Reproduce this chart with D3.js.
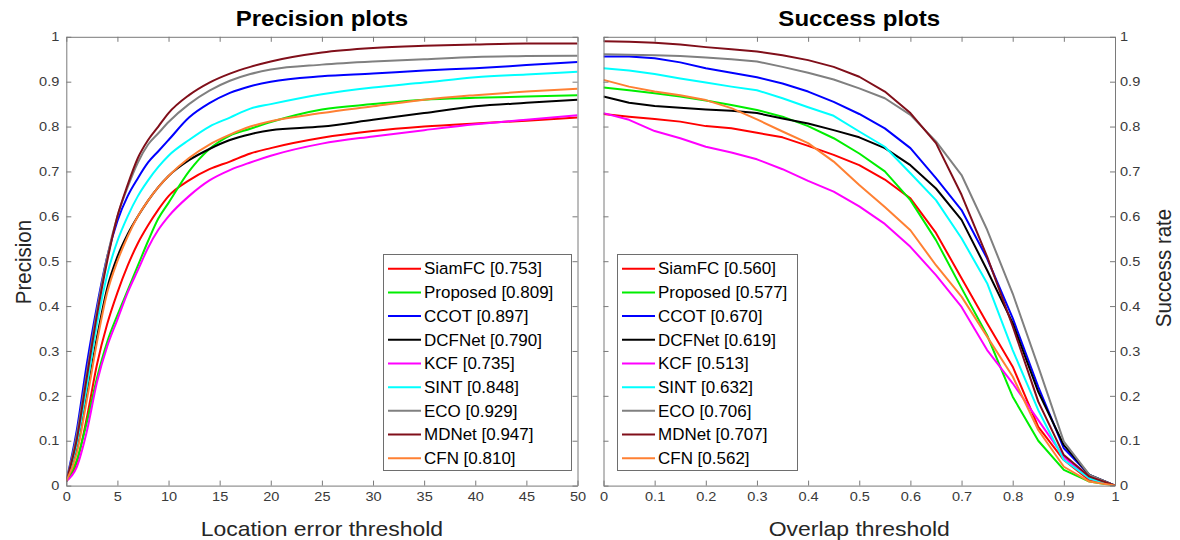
<!DOCTYPE html>
<html><head><meta charset="utf-8">
<script src="https://cdn.jsdelivr.net/npm/d3@7"></script>
<style>
html,body{margin:0;padding:0;background:#fff;}
svg{display:block;font-family:"Liberation Sans",Arial,sans-serif;}
</style></head><body>
<svg id="chart" width="1180" height="540"></svg>
<script>
// ---------- data ----------
const trackers = ["SiamFC","Proposed","CCOT","DCFNet","KCF","SINT","ECO","MDNet","CFN"];
const colors   = ["#ff0000","#00ee00","#0000ff","#000000","#ff00ff","#00ffff","#808080","#800f1a","#ff8033"];
const precisionScores = ["0.753","0.809","0.897","0.790","0.735","0.848","0.929","0.947","0.810"];
const successScores   = ["0.560","0.577","0.670","0.619","0.513","0.632","0.706","0.707","0.562"];

const precX = [0,1,2,3,4,5,6,7,8,9,10,12,14,16,18,20,25,30,35,40,45,50];
const precSiamFC   = [0.01,0.05,0.15,0.27,0.36,0.43,0.49,0.54,0.58,0.615,0.645,0.68,0.705,0.722,0.74,0.752,0.775,0.79,0.80,0.807,0.813,0.82];
const precProposed = [0.01,0.055,0.14,0.24,0.32,0.38,0.435,0.49,0.545,0.595,0.63,0.70,0.75,0.78,0.795,0.81,0.838,0.85,0.86,0.864,0.867,0.87];
const precCCOT     = [0.01,0.12,0.27,0.40,0.51,0.59,0.645,0.685,0.72,0.745,0.77,0.82,0.852,0.875,0.89,0.90,0.912,0.918,0.925,0.93,0.937,0.944];
const precDCFNet   = [0.01,0.08,0.20,0.33,0.44,0.51,0.56,0.60,0.635,0.665,0.69,0.725,0.75,0.77,0.783,0.792,0.80,0.815,0.83,0.845,0.853,0.86];
const precKCF      = [0.01,0.04,0.12,0.23,0.31,0.37,0.43,0.48,0.53,0.57,0.60,0.645,0.68,0.703,0.72,0.735,0.762,0.778,0.792,0.805,0.815,0.825];
const precSINT     = [0.01,0.09,0.22,0.36,0.47,0.545,0.60,0.645,0.68,0.71,0.735,0.77,0.80,0.82,0.84,0.85,0.872,0.887,0.898,0.91,0.916,0.922];
const precECO      = [0.01,0.11,0.25,0.39,0.51,0.60,0.665,0.72,0.76,0.785,0.81,0.85,0.88,0.902,0.917,0.927,0.938,0.945,0.95,0.955,0.957,0.958];
const precMDNet    = [0.01,0.10,0.24,0.38,0.50,0.60,0.67,0.73,0.77,0.80,0.83,0.87,0.898,0.918,0.933,0.945,0.965,0.975,0.98,0.983,0.985,0.985];
const precCFN      = [0.01,0.07,0.19,0.32,0.43,0.50,0.555,0.60,0.635,0.665,0.69,0.73,0.76,0.782,0.80,0.812,0.83,0.845,0.86,0.87,0.878,0.884];

const succX = [0,0.05,0.1,0.15,0.2,0.25,0.3,0.35,0.4,0.45,0.5,0.55,0.6,0.65,0.7,0.75,0.8,0.85,0.9,0.95,1];
const succSiamFC   = [0.828,0.822,0.817,0.811,0.801,0.796,0.786,0.776,0.757,0.737,0.714,0.682,0.64,0.563,0.462,0.362,0.265,0.131,0.057,0.012,0];
const succProposed = [0.887,0.881,0.874,0.867,0.858,0.848,0.837,0.822,0.801,0.774,0.74,0.70,0.636,0.547,0.44,0.335,0.198,0.10,0.035,0.009,0];
const succCCOT     = [0.956,0.956,0.952,0.943,0.93,0.92,0.91,0.896,0.878,0.855,0.828,0.796,0.752,0.685,0.614,0.506,0.373,0.22,0.083,0.024,0];
const succDCFNet   = [0.867,0.853,0.846,0.842,0.838,0.835,0.83,0.818,0.807,0.792,0.776,0.752,0.714,0.662,0.592,0.48,0.362,0.209,0.09,0.024,0];
const succKCF      = [0.83,0.815,0.79,0.774,0.755,0.742,0.727,0.705,0.679,0.655,0.622,0.583,0.532,0.469,0.398,0.302,0.228,0.146,0.064,0.016,0];
const succSINT     = [0.93,0.925,0.917,0.907,0.898,0.889,0.881,0.863,0.843,0.824,0.789,0.755,0.696,0.636,0.551,0.451,0.302,0.168,0.057,0.016,0];
const succECO      = [0.961,0.96,0.959,0.957,0.954,0.95,0.945,0.933,0.92,0.905,0.885,0.863,0.826,0.767,0.692,0.57,0.428,0.265,0.098,0.024,0];
const succMDNet    = [0.99,0.989,0.987,0.983,0.977,0.972,0.967,0.959,0.948,0.933,0.911,0.878,0.83,0.763,0.648,0.51,0.355,0.187,0.068,0.02,0];
const succCFN      = [0.904,0.889,0.878,0.87,0.859,0.841,0.816,0.789,0.763,0.722,0.67,0.621,0.569,0.491,0.421,0.332,0.243,0.124,0.042,0.009,0];

const precTicks = [0,5,10,15,20,25,30,35,40,45,50];
const succTicks = [0,0.1,0.2,0.3,0.4,0.5,0.6,0.7,0.8,0.9,1];
const yTicks    = [0,0.1,0.2,0.3,0.4,0.5,0.6,0.7,0.8,0.9,1];

const precSeries = [precSiamFC,precProposed,precCCOT,precDCFNet,precKCF,precSINT,precECO,precMDNet,precCFN];
const succSeries = [succSiamFC,succProposed,succCCOT,succDCFNet,succKCF,succSINT,succECO,succMDNet,succCFN];

// ---------- layout ----------
const K = 1.12; // horizontal text stretch
const AX = "#7a7a7a", TX = "#3a3a3a";
const svg = d3.select("#chart");
const yTop = 36.8, yBot = 485.6;

const panels = [
  {x0:66.3, x1:577.5, domain:[0,50], xs:precX, series:precSeries, ticks:precTicks, fmt:d3.format("d"),
   curve:d3.curveMonotoneX,
   title:"Precision plots", xlabel:"Location error threshold", ylabel:"Precision", scores:precisionScores,
   labelSide:"left", legend:{x:383.5,y:254.5,w:188,h:216}},
  {x0:603.5, x1:1115, domain:[0,1], xs:succX, series:succSeries, ticks:succTicks, fmt:d => d===0||d===1?String(d):d3.format(".1f")(d),
   curve:d3.curveLinear,
   title:"Success plots", xlabel:"Overlap threshold", ylabel:"Success rate", scores:successScores,
   labelSide:"right", legend:{x:617.5,y:254.5,w:180,h:216}}
];

const y = d3.scaleLinear().domain([0,1]).range([yBot,yTop]);

function stretchText(g, x, yy, txt, opts){
  const k = opts.k === undefined ? K : opts.k;
  const t = g.append("text")
    .attr("transform", `translate(${x},${yy}) scale(${k},1)` + (opts.rotate?` rotate(${opts.rotate})`:""))
    .attr("text-anchor", opts.anchor||"middle")
    .attr("font-size", opts.size)
    .attr("font-weight", opts.weight||"normal")
    .attr("fill", opts.fill||TX)
    .text(txt);
  if (opts.dy) t.attr("dy", opts.dy);
  return t;
}

panels.forEach((p,pi) => {
  const x = d3.scaleLinear().domain(p.domain).range([p.x0,p.x1]);
  const g = svg.append("g");

  const cid = "clip"+pi;
  svg.append("clipPath").attr("id",cid).append("rect")
    .attr("x",p.x0).attr("y",yTop).attr("width",p.x1-p.x0).attr("height",yBot-yTop);

  const line = d3.line().x((d,i)=>x(p.xs[i])).y(d=>y(d)).curve(p.curve);
  g.append("g").attr("clip-path",`url(#${cid})`)
    .selectAll("path").data(p.series).join("path")
    .attr("d", d=>line(d))
    .attr("fill","none")
    .attr("stroke",(d,i)=>colors[i])
    .attr("stroke-width",2)
    .attr("stroke-linejoin","round");

  const bottom = g.append("g").attr("transform",`translate(0,${yBot})`)
    .call(d3.axisBottom(x).tickValues(p.ticks).tickFormat(p.fmt).tickSizeInner(-5).tickSizeOuter(0).tickPadding(6));
  const top = g.append("g").attr("transform",`translate(0,${yTop})`)
    .call(d3.axisTop(x).tickValues(p.ticks).tickFormat("").tickSizeInner(-5).tickSizeOuter(0));
  const left = g.append("g").attr("transform",`translate(${p.x0},0)`)
    .call(d3.axisLeft(y).tickValues(yTicks).tickFormat(p.labelSide==="left"?d3.format("~g"):"").tickSizeInner(-5).tickSizeOuter(0).tickPadding(7));
  const right = g.append("g").attr("transform",`translate(${p.x1},0)`)
    .call(d3.axisRight(y).tickValues(yTicks).tickFormat(p.labelSide==="right"?d3.format("~g"):"").tickSizeInner(-5).tickSizeOuter(0).tickPadding(5));

  [bottom,top,left,right].forEach(a=>{
    a.select(".domain").attr("stroke",AX).attr("stroke-width",1);
    a.selectAll(".tick line").attr("stroke",AX).attr("stroke-width",1);
    a.selectAll(".tick text").attr("fill",TX).attr("font-size",13)
      .attr("font-family","'Liberation Sans',Arial,sans-serif");
  });
  bottom.selectAll(".tick text").attr("transform",`scale(${K},1)`);
  left.selectAll(".tick text").attr("x",-7/K).attr("transform",`scale(${K},1)`);
  right.selectAll(".tick text").attr("x",5/K).attr("transform",`scale(${K},1)`);

  const cx = (p.x0+p.x1)/2;
  stretchText(svg, cx, 25.5, p.title, {size:21.5, weight:"bold", fill:"#000"});
  stretchText(svg, cx, 536, p.xlabel, {size:20.5, fill:"#262626"});
  if (p.labelSide==="left") stretchText(svg, 30.5, 262, p.ylabel, {size:20.5, rotate:-90, fill:"#262626"});
  else stretchText(svg, 1171, 268, p.ylabel, {size:20.5, rotate:-90, fill:"#262626"});

  const L = p.legend;
  const lg = svg.append("g");
  lg.append("rect").attr("x",L.x).attr("y",L.y).attr("width",L.w).attr("height",L.h)
    .attr("fill","#fff").attr("stroke","#6e6e6e").attr("stroke-width",1);
  const rowY = d3.scaleLinear().domain([0,trackers.length-1]).range([L.y+14.2, L.y+203.7]);
  trackers.forEach((name,i)=>{
    const yy = rowY(i);
    lg.append("line").attr("x1",L.x+4.5).attr("x2",L.x+37.5).attr("y1",yy).attr("y2",yy)
      .attr("stroke",colors[i]).attr("stroke-width",2);
    stretchText(lg, L.x+40.5, yy, `${name} [${p.scores[i]}]`, {size:16.5, k:1.03, anchor:"start", dy:"0.35em", fill:"#000"});
  });
});
</script>
</body></html>
